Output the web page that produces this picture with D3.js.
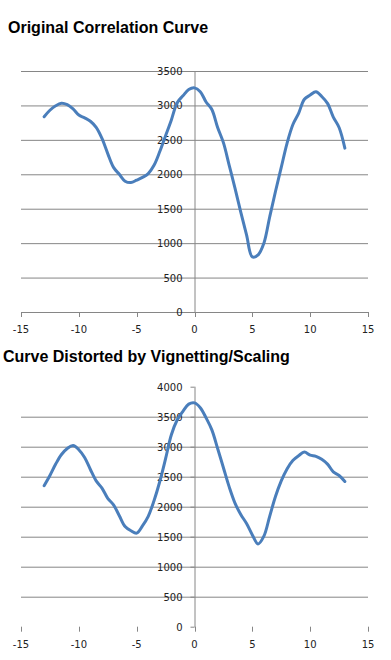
<!DOCTYPE html>
<html><head><meta charset="utf-8">
<script src="https://cdn.jsdelivr.net/npm/d3@7"></script>
<style>body{margin:0;background:#fff}svg{display:block}</style>
</head><body>
<script>
const xs = d3.range(-13, 13.01, 0.5);
const originalValues = [2836,2930,2995,3030,3010,2950,2860,2820,2770,2680,2520,2300,2100,2000,1900,1880,1915,1955,2010,2130,2330,2560,2790,3040,3140,3230,3255,3200,3050,2940,2680,2460,2130,1800,1450,1120,800,830,1000,1380,1750,2100,2450,2720,2885,3090,3150,3200,3130,3030,2830,2680,2380];
const distortedValues = [2350,2520,2710,2870,2970,3020,2950,2820,2620,2430,2310,2140,2030,1850,1670,1600,1560,1680,1840,2100,2420,2800,3200,3445,3590,3710,3730,3650,3480,3280,2970,2650,2330,2060,1870,1720,1530,1380,1510,1840,2170,2430,2630,2770,2850,2910,2860,2840,2790,2710,2580,2520,2420];
const xTicks = [-15,-10,-5,0,5,10,15];
const yTicksTop = [0,500,1000,1500,2000,2500,3000,3500];
const yTicksBottom = [0,500,1000,1500,2000,2500,3000,3500,4000];
const titles = ["Original Correlation Curve", "Curve Distorted by Vignetting/Scaling"];

const svg = d3.select("body").append("svg").attr("width",391).attr("height",660);
const lineColor = "#4a7ebb", gridColor = "#868686";

function chart(cfg){
  const g = svg.append("g");
  const x = d3.scaleLinear().domain([-15,15]).range([21,368]);
  const y = d3.scaleLinear().domain([0,cfg.ymax]).range([cfg.y0,cfg.ytop]);
  g.append("text").attr("x",cfg.tx).attr("y",cfg.ty).text(cfg.title)
    .attr("font-family","Liberation Sans, Arial, sans-serif").attr("font-weight","bold")
    .attr("font-size",16).attr("fill","#000");
  // gridlines
  g.selectAll(".grid").data(cfg.grid).join("line")
    .attr("x1",x(-15)).attr("x2",x(15)).attr("y1",d=>y(d)+0.5).attr("y2",d=>y(d)+0.5)
    .attr("stroke",gridColor).attr("stroke-width",1);
  // y axis
  g.append("line").attr("x1",x(0)+0.5).attr("x2",x(0)+0.5).attr("y1",y(cfg.ymax)).attr("y2",y(0)+0.5)
    .attr("stroke",gridColor);
  if(cfg.yTick){
    g.selectAll(".yt").data(cfg.yticks).join("line")
      .attr("x1",x(0)-4).attr("x2",x(0)).attr("y1",d=>y(d)+0.5).attr("y2",d=>y(d)+0.5).attr("stroke",gridColor);
  }
  g.selectAll(".yl").data(cfg.yticks).join("text")
    .attr("x",x(0)-12).attr("y",d=>y(d)+4).attr("text-anchor","end")
    .attr("font-family","DejaVu Sans, sans-serif").attr("font-size",10).attr("fill","#222")
    .text(d=>d);
  // x ticks
  g.selectAll(".xt").data(xTicks).join("line")
    .attr("x1",d=>Math.round(x(d))+0.5).attr("x2",d=>Math.round(x(d))+0.5)
    .attr("y1",y(0)).attr("y2",y(0)+5).attr("stroke",gridColor);
  g.selectAll(".xl").data(xTicks).join("text")
    .attr("x",d=>x(d)).attr("y",y(0)+21).attr("text-anchor","middle")
    .attr("font-family","DejaVu Sans, sans-serif").attr("font-size",10).attr("fill","#222")
    .text(d=>d);
  const line = d3.line().x((d,i)=>x(xs[i])).y(d=>y(d)).curve(d3.curveCatmullRom.alpha(0.5));
  g.append("path").datum(cfg.values).attr("d",line).attr("fill","none")
    .attr("stroke",lineColor).attr("stroke-width",3).attr("stroke-linejoin","round").attr("stroke-linecap","round");
}

chart({title:titles[0],tx:8,ty:33,ymax:3500,y0:312,ytop:71,yticks:yTicksTop,grid:yTicksTop,values:originalValues,yTick:false});
chart({title:titles[1],tx:3,ty:362,ymax:4000,y0:626.7,ytop:386.7,yticks:yTicksBottom,grid:[500,1000,1500,2000,2500,3000,3500],values:distortedValues,yTick:true});
</script>
</body></html>
